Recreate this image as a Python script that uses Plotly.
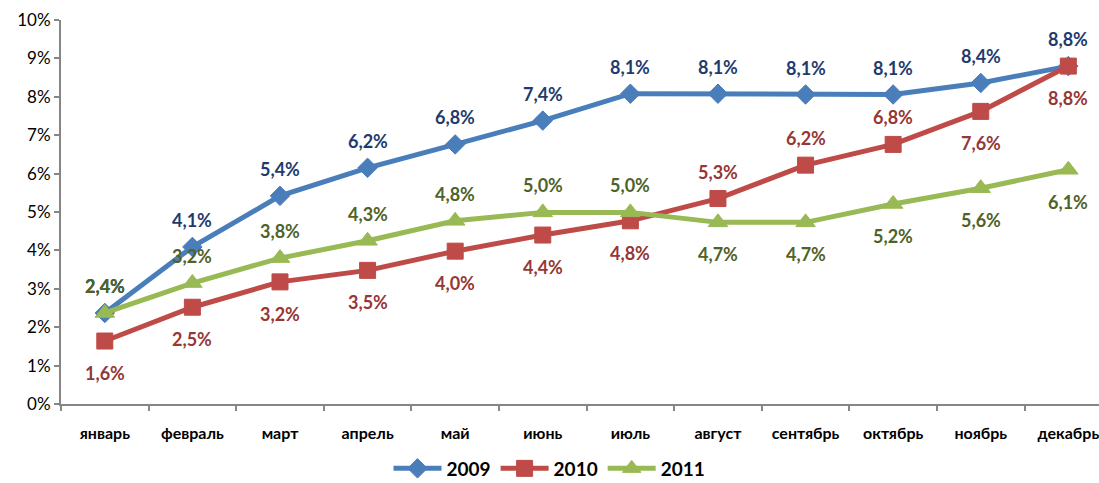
import plotly.graph_objects as go

months = ["январь", "февраль", "март", "апрель", "май", "июнь", "июль",
          "август", "сентябрь", "октябрь", "ноябрь", "декабрь"]
y2009 = [2.37, 4.09, 5.42, 6.15, 6.76, 7.38, 8.08, 8.08, 8.06, 8.06, 8.36, 8.8]
y2010 = [1.64, 2.52, 3.18, 3.48, 3.98, 4.40, 4.77, 5.35, 6.22, 6.76, 7.62, 8.8]
y2011 = [2.37, 3.15, 3.80, 4.25, 4.77, 4.99, 4.99, 4.73, 4.73, 5.21, 5.62, 6.10]
labels2009 = ["2,4%", "4,1%", "5,4%", "6,2%", "6,8%", "7,4%", "8,1%", "8,1%", "8,1%", "8,1%", "8,4%", "8,8%"]
labels2010 = ["1,6%", "2,5%", "3,2%", "3,5%", "4,0%", "4,4%", "4,8%", "5,3%", "6,2%", "6,8%", "7,6%", "8,8%"]
labels2011 = ["2,4%", "3,2%", "3,8%", "4,3%", "4,8%", "5,0%", "5,0%", "4,7%", "4,7%", "5,2%", "5,6%", "6,1%"]
above2009 = [True] * 12
above2010 = [False, False, False, False, False, False, False, True, True, True, False, False]
above2011 = [True, True, True, True, True, True, True, False, False, False, False, False]
yticks = [0, 1, 2, 3, 4, 5, 6, 7, 8, 9, 10]

FONT = "Lato"
series = [
    ("2009", y2009, labels2009, "#4A7EBB", "#1F3B6E", "diamond", 15, above2009),
    ("2010", y2010, labels2010, "#BE4B48", "#953735", "square", 16, above2010),
    ("2011", y2011, labels2011, "#98B954", "#4F6228", "triangle-up", 17, above2011),
]

fig = go.Figure()
annotations = []
for name, ys, labs, col, lcol, sym, msize, ab in series:
    fig.add_trace(go.Scatter(
        x=months, y=ys, name=name, mode="lines+markers",
        line=dict(color=col, width=5),
        marker=dict(symbol=sym, size=msize, color=col, line=dict(color=col, width=1)),
        cliponaxis=False,
    ))
    for m, v, t, a in zip(months, ys, labs, ab):
        annotations.append(dict(
            x=m, y=v, text=t, showarrow=False, xref="x", yref="y",
            yshift=27 if a else -32,
            font=dict(family=FONT, size=18, color=lcol, weight="bold"),
        ))

fig.update_layout(
    width=1099, height=483,
    margin=dict(l=61, r=0, t=20, b=79, autoexpand=False),
    paper_bgcolor="white", plot_bgcolor="white",
    annotations=annotations,
    showlegend=True,
    legend=dict(orientation="h", x=0.5, xanchor="center", xref="container",
                y=0.03, yanchor="middle", yref="container",
                font=dict(family=FONT, size=19, color="black", weight="bold"),
                itemwidth=48, traceorder="normal"),
    xaxis=dict(
        type="category", categoryorder="array", categoryarray=months,
        range=[-0.5, 11.35], automargin=False,
        showline=True, linecolor="#868686", linewidth=2,
        ticks="outside", tickson="boundaries", ticklen=5, tickcolor="#868686", tickwidth=2,
        showgrid=False, zeroline=False,
        tickfont=dict(family=FONT, size=16, color="black", weight="bold"),
        ticklabelstandoff=14,
    ),
    yaxis=dict(
        range=[0, 10], tickvals=yticks, ticktext=[f"{v}%" for v in yticks],
        automargin=False,
        showline=True, linecolor="#868686", linewidth=2,
        ticks="outside", ticklen=5, tickcolor="#868686", tickwidth=2,
        showgrid=False, zeroline=False,
        tickfont=dict(family=FONT, size=17, color="black"),
    ),
)

fig.write_html("out.html", config={"displayModeBar": False},
               post_script="document.body.style.margin='0';document.body.style.overflow='hidden';")
